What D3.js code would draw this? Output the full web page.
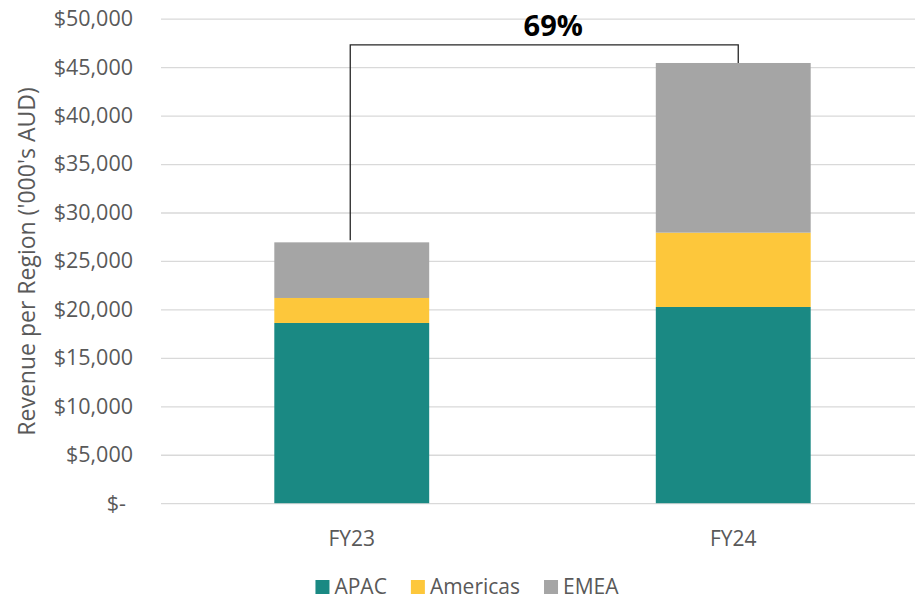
<!DOCTYPE html>
<html>
<head>
<meta charset="utf-8">
<script src="https://cdn.jsdelivr.net/npm/d3@7"></script>
<style>
  html, body { margin: 0; padding: 0; background: #fff; }
  svg { display: block; font-family: "Open Sans", "Noto Sans", sans-serif; }
</style>
</head>
<body>
<svg id="chart" width="915" height="599"></svg>
<script>
// Revenue by region, '000s AUD
const years = ["FY23", "FY24"];
const regions = ["APAC", "Americas", "EMEA"];
const apac = [18600, 20250];
const americas = [2580, 7670];
const emea = [5740, 17510];
const yTicks = [0, 5000, 10000, 15000, 20000, 25000, 30000, 35000, 40000, 45000, 50000];
const growthLabel = "69%";
const regionColors = ["#1A8983", "#FDC73B", "#A5A5A5"];

const svg = d3.select("#chart");
const plotLeft = 161, plotRight = 924, plotTop = 18.7, plotBottom = 503.2;
const font = '"Open Sans", "Noto Sans", sans-serif';

const x = d3.scaleBand().domain(years).range([plotLeft, plotRight]).paddingInner(0.594).paddingOuter(0.297);
const y = d3.scaleLinear().domain([0, 50000]).range([plotBottom, plotTop]);
const color = d3.scaleOrdinal().domain(regions).range(regionColors);

// Gridlines and y tick labels
const yAxis = d3.axisLeft(y)
  .tickValues(yTicks)
  .tickSize(-(plotRight - plotLeft))
  .tickPadding(28)
  .tickFormat(d => d === 0 ? "$-" : "$" + d3.format(",")(d));
const gy = svg.append("g").attr("transform", `translate(${plotLeft},0)`).call(yAxis)
  .attr("font-family", font).attr("font-size", 21.5);
gy.select(".domain").remove();
gy.selectAll(".tick line").attr("stroke", "#d9d9d9").attr("stroke-width", 1.3);
gy.selectAll(".tick text").attr("fill", "#595959");
gy.selectAll(".tick").filter(d => d === 0).select("text").attr("dx", "-7");

// Stacked bars
const rows = years.map((yr, i) => ({ year: yr, APAC: apac[i], Americas: americas[i], EMEA: emea[i] }));
const series = d3.stack().keys(regions)(rows);
svg.append("g").selectAll("g").data(series).join("g")
  .attr("fill", s => color(s.key))
  .selectAll("rect").data(s => s).join("rect")
  .attr("x", d => x(d.data.year))
  .attr("width", x.bandwidth())
  .attr("y", d => y(d[1]))
  .attr("height", d => y(d[0]) - y(d[1]));

// X axis labels
const xAxis = d3.axisBottom(x).tickSize(0).tickPadding(28);
const gx = svg.append("g").attr("transform", `translate(0,${plotBottom})`).call(xAxis)
  .attr("font-family", font).attr("font-size", 21);
gx.select(".domain").remove();
gx.selectAll(".tick text").attr("fill", "#595959");

// Growth bracket between the two totals
const totals = rows.map(r => r.APAC + r.Americas + r.EMEA);
const bx1 = x("FY23") + x.bandwidth() / 2 - 1.5;
const bx2 = x("FY24") + x.bandwidth() / 2 + 5;
const by = y(47300);
svg.append("path")
  .attr("d", `M${bx1},${y(totals[0]) - 2}V${by}H${bx2}V${y(totals[1])}`)
  .attr("fill", "none")
  .attr("stroke", "#262626")
  .attr("stroke-width", 1.3);
svg.append("text")
  .attr("x", (bx1 + bx2) / 2 + 9)
  .attr("y", 36)
  .attr("text-anchor", "middle")
  .attr("font-weight", "bold")
  .style("font-size", "29px")
  .attr("fill", "#000")
  .text(growthLabel);

// Y axis title
svg.append("text")
  .attr("transform", `translate(35,${261.5}) rotate(-90)`)
  .attr("text-anchor", "middle")
  .attr("fill", "#595959")
  .style("font-size", "23px")
  .text("Revenue per Region ('000's AUD)");

// Legend
const legend = svg.append("g");
let lx = 0;
regions.forEach((r, i) => {
  const item = legend.append("g").attr("transform", `translate(${lx},0)`);
  item.append("rect").attr("x", 0).attr("y", -14).attr("width", 14).attr("height", 14).attr("fill", color(r));
  const t = item.append("text").attr("x", 19).attr("y", 0).attr("fill", "#595959").style("font-size", "21px").text(r);
  lx += 19 + t.node().getComputedTextLength() + 24;
});
const legendWidth = lx - 24;
legend.attr("transform", `translate(${467 - legendWidth / 2},594)`);
</script>
</body>
</html>
